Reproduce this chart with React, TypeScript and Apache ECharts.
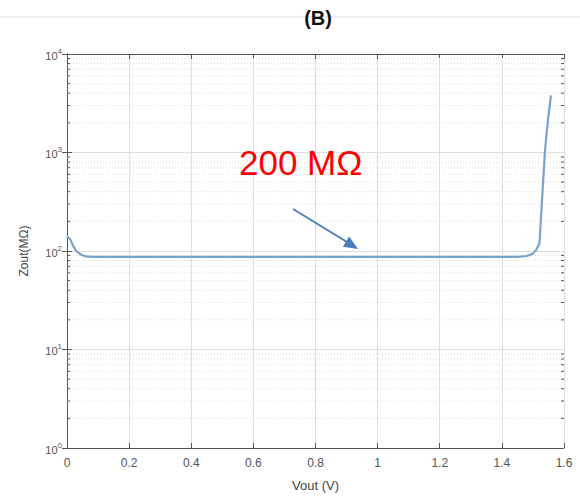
import React, { useEffect, useRef } from "react";
import * as echarts from "echarts";

const voutV = [0, 0.01, 0.02, 0.03, 0.045, 0.06, 0.08, 0.3, 0.6, 0.9, 1.2, 1.45, 1.48, 1.5, 1.512, 1.521, 1.53, 1.539, 1.548, 1.558];
const zoutM = [140, 132, 112, 100, 92, 88, 87, 87, 87, 87, 87, 87, 89, 94, 104, 120, 360, 1070, 2100, 3800];
const xTicks = [0, 0.2, 0.4, 0.6, 0.8, 1, 1.2, 1.4, 1.6];
const yDecades = [1, 10, 100, 1000, 10000];
const minorMultipliers = [2, 3, 4, 5, 6, 7, 8, 9];
const titleText = "(B)";
const annotationText = "200 MΩ";

const FONT = "'Liberation Sans', Arial, sans-serif";

export default function App() {
  const ref = useRef<HTMLDivElement>(null);
  useEffect(() => {
    if (!ref.current) return;
    const chart = echarts.init(ref.current, null, { renderer: "svg" });
    const minorY: number[][] = [];
    yDecades.slice(0, -1).forEach((d) => minorMultipliers.forEach((m) => minorY.push([0, d * m])));
    const series: any[] = [
      {
        type: "custom",
        silent: true,
        z: 1,
        data: minorY,
        encode: { x: 0, y: 1 },
        renderItem: (params: any, api: any) => {
          const p = api.coord([0, api.value(1)]);
          const cs = params.coordSys;
          return {
            type: "group",
            children: [
              { type: "line", shape: { x1: cs.x, y1: p[1], x2: cs.x + cs.width, y2: p[1] }, style: { stroke: "#dcdcdc", lineWidth: 1, lineDash: [1, 2] } },
              { type: "line", shape: { x1: cs.x, y1: p[1], x2: cs.x + 3, y2: p[1] }, style: { stroke: "#555", lineWidth: 1 } },
              { type: "line", shape: { x1: cs.x + cs.width - 3, y1: p[1], x2: cs.x + cs.width, y2: p[1] }, style: { stroke: "#555", lineWidth: 1 } },
            ],
          };
        },
      },
      {
        type: "line",
        data: voutV.map((v, i) => [v, zoutM[i]]),
        showSymbol: false,
        smooth: false,
        z: 5,
        lineStyle: { color: "#78a3cd", width: 2.2 },
      },
    ];
    chart.setOption({
      animation: false,
      backgroundColor: "#ffffff",
      grid: { left: 67, right: 16, top: 54, bottom: 49 },
      xAxis: [
        {
          type: "value",
          min: 0,
          max: 1.6,
          interval: 0.2,
          name: "Vout (V)",
          nameLocation: "middle",
          nameGap: 31,
          nameTextStyle: { color: "#444", fontSize: 13, fontFamily: FONT },
          axisLine: { show: true, lineStyle: { color: "#555" } },
          axisTick: { show: true, inside: true, length: 5, lineStyle: { color: "#555" } },
          axisLabel: {
            color: "#555",
            fontSize: 12,
            fontFamily: FONT,
            margin: 9,
            formatter: (v: number) => {
              const t = xTicks.find((x) => Math.abs(x - v) < 1e-6);
              return t === undefined ? "" : String(Math.round(t * 10) / 10);
            },
          },
          splitLine: { show: true, lineStyle: { color: "#dedede", width: 1 } },
        },
        {
          type: "value",
          position: "top",
          min: 0,
          max: 1.6,
          interval: 0.2,
          axisLine: { show: true, lineStyle: { color: "#555" } },
          axisTick: { show: true, inside: true, length: 5, lineStyle: { color: "#555" } },
          axisLabel: { show: false },
          splitLine: { show: false },
        },
      ],
      yAxis: [
        {
          type: "log",
          logBase: 10,
          min: 1,
          max: 10000,
          name: "Zout(MΩ)",
          nameLocation: "middle",
          nameGap: 37,
          nameTextStyle: { color: "#444", fontSize: 12, fontFamily: FONT },
          axisLine: { show: true, lineStyle: { color: "#555" } },
          axisTick: { show: true, inside: true, length: 5, lineStyle: { color: "#555" } },
          axisLabel: {
            color: "#555",
            fontFamily: FONT,
            margin: 5,
            formatter: (v: number) => "{b|10}{s|" + Math.round(Math.log10(v)) + "}",
            rich: {
              b: { fontSize: 11, color: "#555", fontFamily: FONT, verticalAlign: "bottom", lineHeight: 14 },
              s: { fontSize: 8, color: "#555", fontFamily: FONT, verticalAlign: "top", lineHeight: 14, padding: [0, 0, 8, 0] },
            },
          },
          splitLine: { show: true, lineStyle: { color: "#dedede", width: 1 } },
        },
        {
          type: "log",
          logBase: 10,
          min: 1,
          max: 10000,
          position: "right",
          axisLine: { show: true, lineStyle: { color: "#555" } },
          axisTick: { show: true, inside: true, length: 5, lineStyle: { color: "#555" } },
          axisLabel: { show: false },
          splitLine: { show: false },
        },
      ],
      series,
      graphic: [
        { type: "line", z: -1, shape: { x1: 0, y1: 17, x2: 580, y2: 17 }, style: { stroke: "#e0e0e0", lineWidth: 1 } },
        {
          type: "text",
          x: 318,
          y: 18,
          style: { text: titleText, fill: "#111", font: "bold 20px " + FONT, align: "center", verticalAlign: "middle" },
        },
        {
          type: "text",
          x: 239,
          y: 162,
          z: 10,
          style: { text: annotationText, fill: "#ff0000", font: "35px " + FONT, align: "left", verticalAlign: "middle" },
        },
        { type: "line", z: 10, shape: { x1: 293, y1: 209, x2: 347, y2: 242 }, style: { stroke: "#4a7ebb", lineWidth: 2 } },
        {
          type: "polygon",
          z: 10,
          shape: { points: [[358, 249], [342.9, 246.8], [349.2, 236.6]] },
          style: { fill: "#4a7ebb" },
        },
      ],
    });
    return () => chart.dispose();
  }, []);
  return <div ref={ref} style={{ width: 580, height: 497, position: "absolute", left: 0, top: 0 }} />;
}
